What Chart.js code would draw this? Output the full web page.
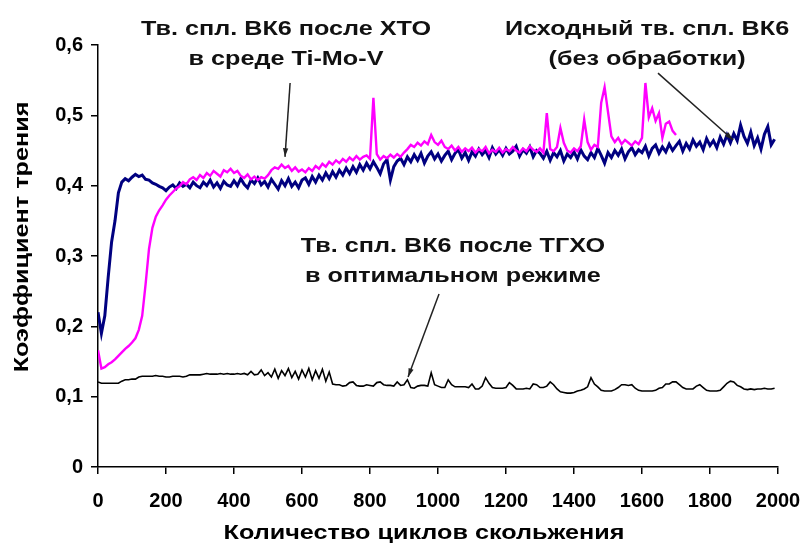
<!DOCTYPE html>
<html>
<head>
<meta charset="utf-8">
<script src="https://cdn.jsdelivr.net/npm/chart.js@4.4.1/dist/chart.umd.min.js"></script>
<style>
  html, body { margin: 0; padding: 0; background: #fff; }
</style>
</head>
<body>
<canvas id="friction" width="800" height="544"></canvas>
<script>
/* ── data: friction coefficient vs sliding cycles, sampled every 10 cycles ── */
const sampleStep = 10;

// Исходный тв. спл. ВК6 (без обработки) — 0..1990
const untreated = [
  0.220, 0.190, 0.215, 0.270, 0.320, 0.350, 0.390, 0.405, 0.410, 0.407,
  0.412, 0.416, 0.413, 0.415, 0.409, 0.408, 0.404, 0.402, 0.399, 0.397,
  0.393, 0.398, 0.401, 0.396, 0.404, 0.399, 0.402, 0.397, 0.405, 0.400,
  0.397, 0.405, 0.400, 0.408, 0.398, 0.404, 0.396, 0.406, 0.401, 0.399,
  0.407, 0.400, 0.410, 0.402, 0.397, 0.408, 0.403, 0.411, 0.401, 0.406,
  0.398, 0.409, 0.402, 0.395, 0.407, 0.400, 0.410, 0.399, 0.405, 0.397,
  0.408, 0.411, 0.402, 0.413, 0.405, 0.415, 0.408, 0.418, 0.410, 0.420,
  0.412, 0.422, 0.415, 0.425, 0.417, 0.427, 0.419, 0.430, 0.422, 0.432,
  0.424, 0.434, 0.426, 0.417, 0.431, 0.437, 0.408, 0.427, 0.435, 0.439,
  0.430, 0.441, 0.434, 0.444, 0.436, 0.446, 0.432, 0.442, 0.448, 0.438,
  0.445, 0.435, 0.443, 0.449, 0.437, 0.446, 0.451, 0.439, 0.447, 0.436,
  0.448, 0.442, 0.452, 0.444, 0.450, 0.440, 0.454, 0.445, 0.451, 0.443,
  0.453, 0.445, 0.449, 0.456, 0.442, 0.451, 0.446, 0.455, 0.441, 0.450,
  0.446, 0.439, 0.449, 0.436, 0.447, 0.441, 0.450, 0.435, 0.445, 0.440,
  0.448, 0.438, 0.451, 0.442, 0.437, 0.447, 0.440, 0.453, 0.443, 0.432,
  0.447, 0.440, 0.450, 0.443, 0.452, 0.438, 0.448, 0.454, 0.444, 0.451,
  0.447, 0.456, 0.442, 0.453, 0.458, 0.446, 0.455, 0.448, 0.459, 0.450,
  0.457, 0.463, 0.449, 0.460, 0.452, 0.465, 0.456, 0.462, 0.451, 0.467,
  0.457, 0.464, 0.454, 0.469, 0.459, 0.472, 0.461, 0.474, 0.464, 0.486,
  0.470, 0.460, 0.476, 0.457, 0.468, 0.452, 0.473, 0.484, 0.458, 0.466,
];

// Тв. спл. ВК6 после ХТО в среде Ti-Mo-V — 0..1700
const afterXTO = [
  0.166, 0.140, 0.142, 0.146, 0.149, 0.153, 0.158, 0.163, 0.168, 0.172,
  0.177, 0.183, 0.195, 0.215, 0.260, 0.310, 0.340, 0.356, 0.365, 0.372,
  0.380, 0.386, 0.391, 0.396, 0.399, 0.405, 0.402, 0.409, 0.412, 0.408,
  0.415, 0.411, 0.418, 0.414, 0.421, 0.417, 0.413, 0.422, 0.419, 0.424,
  0.418, 0.421, 0.414, 0.411, 0.416, 0.409, 0.413, 0.408, 0.412, 0.410,
  0.415, 0.422, 0.426, 0.424, 0.430, 0.425, 0.428, 0.421, 0.426, 0.420,
  0.423, 0.419, 0.425, 0.421, 0.428, 0.424, 0.431, 0.427, 0.434, 0.430,
  0.436, 0.432, 0.438, 0.434, 0.440, 0.436, 0.442, 0.437, 0.441, 0.443,
  0.438, 0.525, 0.445, 0.437, 0.442, 0.439, 0.444, 0.440, 0.445, 0.441,
  0.447, 0.452, 0.458, 0.455, 0.461, 0.457, 0.463, 0.459, 0.472, 0.462,
  0.458, 0.464, 0.455, 0.452, 0.457, 0.450, 0.455, 0.448, 0.453, 0.449,
  0.454, 0.447, 0.452, 0.449, 0.455, 0.446, 0.451, 0.448, 0.454, 0.447,
  0.452, 0.449, 0.455, 0.450, 0.447, 0.453, 0.449, 0.456, 0.451, 0.448,
  0.453, 0.447, 0.503, 0.452, 0.449, 0.455, 0.482, 0.461, 0.450, 0.447,
  0.453, 0.449, 0.456, 0.494, 0.462, 0.451, 0.458, 0.455, 0.518, 0.540,
  0.505, 0.470, 0.462, 0.468, 0.459, 0.465, 0.461, 0.457, 0.463, 0.459,
  0.468, 0.546, 0.497, 0.510, 0.492, 0.503, 0.468, 0.488, 0.491, 0.478,
  0.472,
];

// Тв. спл. ВК6 после ТГХО в оптимальном режиме — 0..1990
const afterTGXO = [
  0.121, 0.119, 0.119, 0.119, 0.119, 0.119, 0.119, 0.122, 0.124, 0.124,
  0.125, 0.125, 0.128, 0.129, 0.129, 0.129, 0.129, 0.130, 0.129, 0.129,
  0.128, 0.128, 0.129, 0.129, 0.129, 0.128, 0.129, 0.131, 0.131, 0.131,
  0.131, 0.132, 0.133, 0.132, 0.132, 0.132, 0.133, 0.132, 0.133, 0.132,
  0.132, 0.133, 0.132, 0.133, 0.131, 0.136, 0.131, 0.132, 0.138, 0.130,
  0.134, 0.128, 0.139, 0.126, 0.137, 0.130, 0.140, 0.127, 0.136, 0.125,
  0.138, 0.128, 0.140, 0.124, 0.137, 0.126, 0.139, 0.122, 0.135, 0.118,
  0.117, 0.117, 0.115, 0.116, 0.120, 0.121, 0.116, 0.115, 0.115, 0.117,
  0.116, 0.115, 0.120, 0.121, 0.117, 0.116, 0.116, 0.115, 0.121, 0.116,
  0.117, 0.124, 0.113, 0.112, 0.115, 0.116, 0.116, 0.115, 0.134, 0.117,
  0.115, 0.113, 0.113, 0.124, 0.117, 0.114, 0.114, 0.114, 0.114, 0.113,
  0.118, 0.111, 0.111, 0.115, 0.127, 0.119, 0.113, 0.112, 0.112, 0.112,
  0.113, 0.120, 0.116, 0.111, 0.111, 0.111, 0.112, 0.111, 0.118, 0.117,
  0.113, 0.113, 0.115, 0.121, 0.117, 0.111, 0.107, 0.106, 0.105, 0.105,
  0.106, 0.108, 0.109, 0.111, 0.114, 0.127, 0.118, 0.114, 0.109, 0.108,
  0.108, 0.108, 0.110, 0.113, 0.117, 0.117, 0.116, 0.117, 0.112, 0.109,
  0.108, 0.108, 0.108, 0.108, 0.109, 0.112, 0.113, 0.118, 0.118, 0.121,
  0.121, 0.117, 0.113, 0.111, 0.111, 0.111, 0.115, 0.117, 0.113, 0.109,
  0.108, 0.108, 0.108, 0.109, 0.114, 0.119, 0.122, 0.121, 0.116, 0.114,
  0.111, 0.110, 0.111, 0.110, 0.111, 0.111, 0.112, 0.111, 0.111, 0.112,
];

const xTitle = 'Количество циклов скольжения';
const yTitle = 'Коэффициент трения';

// callouts, anchored in data units (cycles, coefficient); `at` is the first text baseline
const callouts = [
  { lines: ['Тв. спл. ВК6 после ХТО', 'в среде Ti-Mo-V'], at: [553, 0.6145], from: [565, 0.546], to: [550, 0.441] },
  { lines: ['Исходный тв. спл. ВК6', '(без обработки)'], at: [1615, 0.6145], from: [1647, 0.560], to: [1868, 0.465] },
  { lines: ['Тв. спл. ВК6 после ТГХО', 'в оптимальном режиме'], at: [1044, 0.306], from: [1003, 0.246], to: [912, 0.128] },
];

const toPoints = values => values.map((y, i) => ({ x: i * sampleStep, y }));

const labelFont = 'bold 20px "Liberation Sans", Arial, sans-serif';
const stretch = 1.26; // source lettering is a bit wide

function wideText(ctx, text, x, y, rotate = 0) {
  ctx.save();
  ctx.translate(x, y);
  ctx.rotate(rotate);
  ctx.scale(stretch, 1);
  ctx.fillText(text, 0, 0);
  ctx.restore();
}

const calloutPlugin = {
  id: 'callouts',
  afterDatasetsDraw(chart) {
    const { ctx, chartArea, scales: { x, y } } = chart;
    ctx.save();
    callouts.forEach(c => {
      const x1 = x.getPixelForValue(c.from[0]), y1 = y.getPixelForValue(c.from[1]);
      const x2 = x.getPixelForValue(c.to[0]), y2 = y.getPixelForValue(c.to[1]);
      ctx.strokeStyle = '#222';
      ctx.fillStyle = '#222';
      ctx.lineWidth = 1.5;
      ctx.beginPath();
      ctx.moveTo(x1, y1);
      ctx.lineTo(x2, y2);
      ctx.stroke();
      const ang = Math.atan2(y2 - y1, x2 - x1);
      ctx.beginPath();
      ctx.moveTo(x2, y2);
      ctx.lineTo(x2 - 9 * Math.cos(ang - 0.3), y2 - 9 * Math.sin(ang - 0.3));
      ctx.lineTo(x2 - 9 * Math.cos(ang + 0.3), y2 - 9 * Math.sin(ang + 0.3));
      ctx.closePath();
      ctx.fill();

      ctx.fillStyle = '#111';
      ctx.font = labelFont;
      ctx.textAlign = 'center';
      ctx.textBaseline = 'alphabetic';
      const tx = x.getPixelForValue(c.at[0]);
      const ty = y.getPixelForValue(c.at[1]);
      c.lines.forEach((line, i) => wideText(ctx, line, tx, ty + i * 30));
    });

    // axis titles
    ctx.fillStyle = '#000';
    ctx.font = labelFont;
    ctx.textAlign = 'center';
    ctx.textBaseline = 'middle';
    wideText(ctx, xTitle, 424, chart.height - 11);
    wideText(ctx, yTitle, 22, (chartArea.top + chartArea.bottom) / 2 - 19, -Math.PI / 2);
    ctx.restore();
  },
};

const axisFont = { family: '"Liberation Sans", Arial, sans-serif', size: 20, weight: 'bold' };

new Chart(document.getElementById('friction'), {
  type: 'line',
  data: {
    datasets: [
      { data: toPoints(afterTGXO), borderColor: '#000000', borderWidth: 1.6 },
      { data: toPoints(afterXTO), borderColor: '#ff00ff', borderWidth: 2.4 },
      { data: toPoints(untreated), borderColor: '#000080', borderWidth: 3 },
    ],
  },
  options: {
    responsive: false,
    animation: false,
    devicePixelRatio: 1,
    parsing: false,
    elements: { point: { radius: 0 }, line: { tension: 0 } },
    layout: { padding: { top: 45, right: 22, left: 0, bottom: 0 }, autoPadding: false },
    plugins: { legend: { display: false }, tooltip: { enabled: false } },
    scales: {
      x: {
        type: 'linear',
        min: 0,
        max: 2000,
        afterFit: s => { s.height = 77; s.paddingLeft = 0; s.paddingRight = 0; },
        ticks: { stepSize: 200, color: '#000', font: axisFont, padding: 15, maxRotation: 0, callback: v => String(v) },
        grid: { drawOnChartArea: false, drawTicks: true, tickLength: 7, color: '#000', lineWidth: 1.5 },
        border: { color: '#000', width: 1.5 },
      },
      y: {
        min: 0,
        max: 0.6,
        afterFit: s => { s.width = 98; s.paddingTop = 0; s.paddingBottom = 0; },
        ticks: {
          stepSize: 0.1,
          color: '#000',
          font: axisFont,
          padding: 8,
          callback: v => (v === 0 ? '0' : v.toFixed(1).replace('.', ',')),
        },
        grid: { drawOnChartArea: false, drawTicks: true, tickLength: 7, color: '#000', lineWidth: 1.5 },
        border: { color: '#000', width: 1.5 },
      },
    },
  },
  plugins: [calloutPlugin],
});
</script>
</body>
</html>
